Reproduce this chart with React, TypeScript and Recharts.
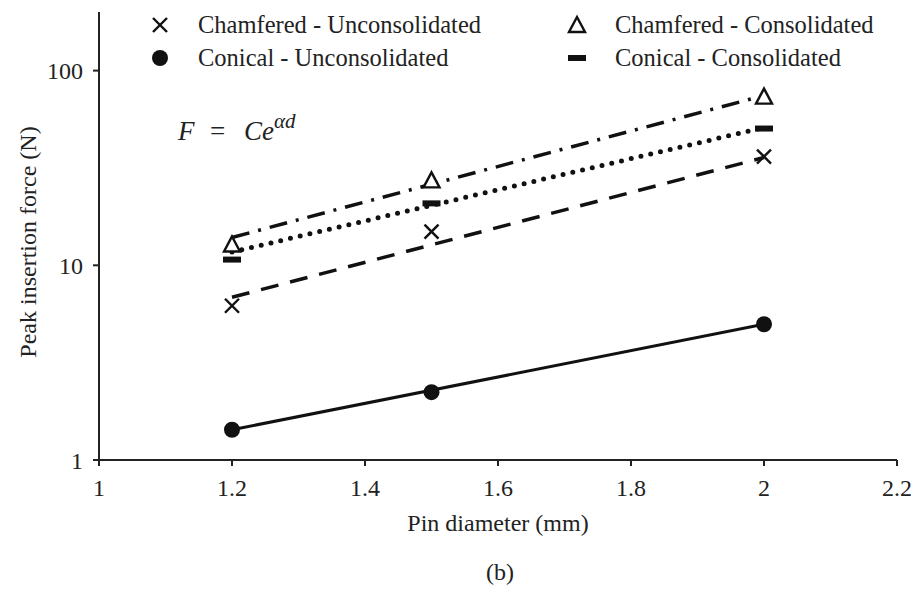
import React from 'react'
import { ComposedChart, Line, Scatter, XAxis, YAxis } from 'recharts'

// values
const xTicks = [1, 1.2, 1.4, 1.6, 1.8, 2, 2.2]
const yTicks = [1, 10, 100]
const diameters = [1.2, 1.5, 2]
const chamferedUnconsolidated = [6.2, 14.9, 36.2]
const chamferedConsolidated = [12.8, 27.3, 73.5]
const conicalUnconsolidated = [1.43, 2.23, 4.98]
const conicalConsolidated = [10.7, 20.8, 50.4]

// exponential fit lines, end points only
const fitEnds = [1.2, 2]
const fitChamferedUnconsolidated = [6.85, 35.8]
const fitChamferedConsolidated = [13.9, 74.5]
const fitConicalUnconsolidated = [1.43, 4.98]
const fitConicalConsolidated = [11.7, 51]

const font = '"Liberation Serif", "Times New Roman", serif'

const toPoints = (xs: number[], ys: number[]) => xs.map((x, i) => ({ x, y: ys[i] }))

const Cross = (p: any) => (
	<g stroke='#111' strokeWidth={2.4}>
		<line x1={p.cx - 7} y1={p.cy - 7} x2={p.cx + 7} y2={p.cy + 7} />
		<line x1={p.cx - 7} y1={p.cy + 7} x2={p.cx + 7} y2={p.cy - 7} />
	</g>
)
const Triangle = (p: any) => (
	<polygon
		points={`${p.cx},${p.cy - 8} ${p.cx - 8},${p.cy + 7} ${p.cx + 8},${p.cy + 7}`}
		fill='#fff'
		stroke='#111'
		strokeWidth={2.4}
	/>
)
const Dot = (p: any) => <circle cx={p.cx} cy={p.cy} r={8} fill='#111' />
const Dash = (p: any) => <rect x={p.cx - 9} y={p.cy - 3} width={18} height={6} fill='#111' />

const legendItems = [
	{ name: 'Chamfered - Unconsolidated', Mark: Cross, left: 160, top: 25 },
	{ name: 'Chamfered - Consolidated', Mark: Triangle, left: 577, top: 25 },
	{ name: 'Conical - Unconsolidated', Mark: Dot, left: 160, top: 58 },
	{ name: 'Conical - Consolidated', Mark: Dash, left: 577, top: 58 },
]

const App = () => {
	return (
		<div style={{ position: 'absolute', left: 0, top: 0, width: 914, height: 589, background: '#fff' }}>
			<ComposedChart width={914} height={589} margin={{ top: 12, right: 17, left: 0, bottom: 0 }}>
				<XAxis
					type='number'
					dataKey='x'
					domain={[1, 2.2]}
					ticks={xTicks}
					height={129}
					tickSize={6}
					tickMargin={13}
					stroke='#222'
					strokeWidth={2}
					tick={{ fill: '#222', fontSize: 24, fontFamily: font }}
				/>
				<YAxis
					type='number'
					scale='log'
					domain={[1, 200]}
					allowDataOverflow
					ticks={yTicks}
					width={99}
					tickSize={6}
					tickMargin={10}
					stroke='#222'
					strokeWidth={2}
					tick={{ fill: '#222', fontSize: 24, fontFamily: font }}
				/>
				<Line
					data={toPoints(fitEnds, fitChamferedConsolidated)}
					dataKey='y'
					stroke='#111'
					strokeWidth={3.5}
					strokeDasharray='18 9 3 9'
					dot={false}
					isAnimationActive={false}
				/>
				<Line
					data={toPoints(fitEnds, fitConicalConsolidated)}
					dataKey='y'
					stroke='#111'
					strokeWidth={5}
					strokeLinecap='round'
					strokeDasharray='0 10'
					dot={false}
					isAnimationActive={false}
				/>
				<Line
					data={toPoints(fitEnds, fitChamferedUnconsolidated)}
					dataKey='y'
					stroke='#111'
					strokeWidth={3.5}
					strokeDasharray='18 12'
					dot={false}
					isAnimationActive={false}
				/>
				<Line
					data={toPoints(fitEnds, fitConicalUnconsolidated)}
					dataKey='y'
					stroke='#111'
					strokeWidth={3}
					dot={false}
					isAnimationActive={false}
				/>
				<Scatter data={toPoints(diameters, chamferedUnconsolidated)} dataKey='y' shape={Cross} isAnimationActive={false} />
				<Scatter data={toPoints(diameters, chamferedConsolidated)} dataKey='y' shape={Triangle} isAnimationActive={false} />
				<Scatter data={toPoints(diameters, conicalUnconsolidated)} dataKey='y' shape={Dot} isAnimationActive={false} />
				<Scatter data={toPoints(diameters, conicalConsolidated)} dataKey='y' shape={Dash} isAnimationActive={false} />
			</ComposedChart>

			<svg width={914} height={589} style={{ position: 'absolute', left: 0, top: 0, pointerEvents: 'none' }}>
				{legendItems.map(({ name, Mark, left, top }) => (
					<g key={name}>
						<Mark cx={left} cy={top} />
						<text x={left + 38} y={top + 8} fontSize={24.5} fontFamily={font} fill='#222'>
							{name}
						</text>
					</g>
				))}
				<text y={140} fontSize={27} fontFamily={font} fontStyle='italic' fill='#222'>
					<tspan x={178}>F</tspan>
					<tspan x={210} fontStyle='normal'>=</tspan>
					<tspan x={244}>Ce</tspan>
					<tspan dy={-12} fontSize={21}>αd</tspan>
				</text>
				<text
					x={28}
					y={242}
					transform='rotate(-90 28 242)'
					textAnchor='middle'
					dominantBaseline='central'
					fontSize={24}
					fontFamily={font}
					fill='#222'
				>
					Peak insertion force (N)
				</text>
				<text x={498} y={531} textAnchor='middle' fontSize={24} fontFamily={font} fill='#222'>
					Pin diameter (mm)
				</text>
				<text x={500} y={580} textAnchor='middle' fontSize={24} fontFamily={font} fill='#222'>
					(b)
				</text>
			</svg>
		</div>
	)
}

export default App
